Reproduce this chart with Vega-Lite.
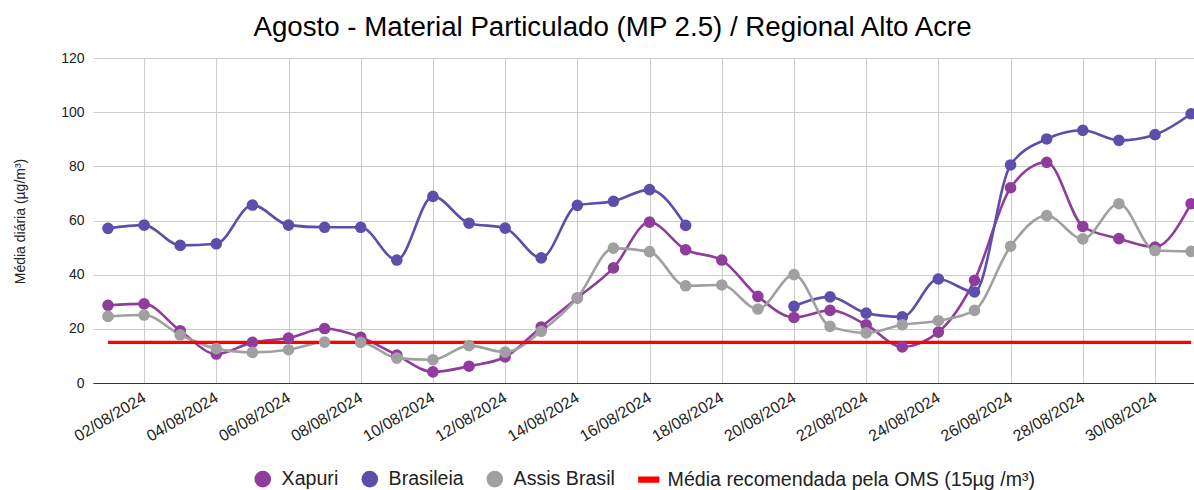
{
  "$schema": "https://vega.github.io/schema/vega-lite/v6.json",
  "width": 1101,
  "height": 325,
  "autosize": {"type": "none"},
  "padding": {"left": 93, "top": 58, "right": 0, "bottom": 107},
  "background": "white",
  "config": {
    "font": "Liberation Sans",
    "view": {"stroke": null}
  },
  "title": {
    "text": "Agosto - Material Particulado (MP 2.5) / Regional Alto Acre",
    "fontSize": 27.7,
    "fontWeight": "normal",
    "color": "#000",
    "dx": -31,
    "offset": 9
  },
  "data": {
    "values": [
      {"dia": 1, "serie": "Xapuri", "valor": 28.7},
      {"dia": 2, "serie": "Xapuri", "valor": 29.2},
      {"dia": 3, "serie": "Xapuri", "valor": 19.3},
      {"dia": 4, "serie": "Xapuri", "valor": 10.7},
      {"dia": 5, "serie": "Xapuri", "valor": 15.0},
      {"dia": 6, "serie": "Xapuri", "valor": 16.6},
      {"dia": 7, "serie": "Xapuri", "valor": 20.1},
      {"dia": 8, "serie": "Xapuri", "valor": 16.9},
      {"dia": 9, "serie": "Xapuri", "valor": 10.3},
      {"dia": 10, "serie": "Xapuri", "valor": 4.1},
      {"dia": 11, "serie": "Xapuri", "valor": 6.2},
      {"dia": 12, "serie": "Xapuri", "valor": 9.6},
      {"dia": 13, "serie": "Xapuri", "valor": 20.7},
      {"dia": 14, "serie": "Xapuri", "valor": 31.4},
      {"dia": 15, "serie": "Xapuri", "valor": 42.5},
      {"dia": 16, "serie": "Xapuri", "valor": 59.4},
      {"dia": 17, "serie": "Xapuri", "valor": 49.2},
      {"dia": 18, "serie": "Xapuri", "valor": 45.4},
      {"dia": 19, "serie": "Xapuri", "valor": 32.0},
      {"dia": 20, "serie": "Xapuri", "valor": 24.2},
      {"dia": 21, "serie": "Xapuri", "valor": 26.8},
      {"dia": 22, "serie": "Xapuri", "valor": 21.5},
      {"dia": 23, "serie": "Xapuri", "valor": 13.3},
      {"dia": 24, "serie": "Xapuri", "valor": 18.8},
      {"dia": 25, "serie": "Xapuri", "valor": 37.9},
      {"dia": 26, "serie": "Xapuri", "valor": 72.1},
      {"dia": 27, "serie": "Xapuri", "valor": 81.5},
      {"dia": 28, "serie": "Xapuri", "valor": 57.8},
      {"dia": 29, "serie": "Xapuri", "valor": 53.3},
      {"dia": 30, "serie": "Xapuri", "valor": 50.2},
      {"dia": 31, "serie": "Xapuri", "valor": 66.2},
      {"dia": 1, "serie": "Brasileia", "valor": 57.1},
      {"dia": 2, "serie": "Brasileia", "valor": 58.3},
      {"dia": 3, "serie": "Brasileia", "valor": 50.8},
      {"dia": 4, "serie": "Brasileia", "valor": 51.4},
      {"dia": 5, "serie": "Brasileia", "valor": 65.7},
      {"dia": 6, "serie": "Brasileia", "valor": 58.3},
      {"dia": 7, "serie": "Brasileia", "valor": 57.5},
      {"dia": 8, "serie": "Brasileia", "valor": 57.5},
      {"dia": 9, "serie": "Brasileia", "valor": 45.4},
      {"dia": 10, "serie": "Brasileia", "valor": 68.9},
      {"dia": 11, "serie": "Brasileia", "valor": 59.0},
      {"dia": 12, "serie": "Brasileia", "valor": 57.2},
      {"dia": 13, "serie": "Brasileia", "valor": 46.2},
      {"dia": 14, "serie": "Brasileia", "valor": 65.6},
      {"dia": 15, "serie": "Brasileia", "valor": 67.1},
      {"dia": 16, "serie": "Brasileia", "valor": 71.4},
      {"dia": 17, "serie": "Brasileia", "valor": 58.2},
      {"dia": 18, "serie": "Brasileia", "valor": null},
      {"dia": 19, "serie": "Brasileia", "valor": null},
      {"dia": 20, "serie": "Brasileia", "valor": 28.3},
      {"dia": 21, "serie": "Brasileia", "valor": 31.8},
      {"dia": 22, "serie": "Brasileia", "valor": 25.8},
      {"dia": 23, "serie": "Brasileia", "valor": 24.4},
      {"dia": 24, "serie": "Brasileia", "valor": 38.4},
      {"dia": 25, "serie": "Brasileia", "valor": 33.6},
      {"dia": 26, "serie": "Brasileia", "valor": 80.5},
      {"dia": 27, "serie": "Brasileia", "valor": 90.1},
      {"dia": 28, "serie": "Brasileia", "valor": 93.3},
      {"dia": 29, "serie": "Brasileia", "valor": 89.6},
      {"dia": 30, "serie": "Brasileia", "valor": 91.7},
      {"dia": 31, "serie": "Brasileia", "valor": 99.4},
      {"dia": 1, "serie": "Assis Brasil", "valor": 24.6},
      {"dia": 2, "serie": "Assis Brasil", "valor": 25.1},
      {"dia": 3, "serie": "Assis Brasil", "valor": 17.8},
      {"dia": 4, "serie": "Assis Brasil", "valor": 12.7},
      {"dia": 5, "serie": "Assis Brasil", "valor": 11.3},
      {"dia": 6, "serie": "Assis Brasil", "valor": 12.3},
      {"dia": 7, "serie": "Assis Brasil", "valor": 15.1},
      {"dia": 8, "serie": "Assis Brasil", "valor": 15.0},
      {"dia": 9, "serie": "Assis Brasil", "valor": 9.2},
      {"dia": 10, "serie": "Assis Brasil", "valor": 8.6},
      {"dia": 11, "serie": "Assis Brasil", "valor": 13.8},
      {"dia": 12, "serie": "Assis Brasil", "valor": 11.4},
      {"dia": 13, "serie": "Assis Brasil", "valor": 19.1},
      {"dia": 14, "serie": "Assis Brasil", "valor": 31.4},
      {"dia": 15, "serie": "Assis Brasil", "valor": 49.8},
      {"dia": 16, "serie": "Assis Brasil", "valor": 48.5},
      {"dia": 17, "serie": "Assis Brasil", "valor": 35.9},
      {"dia": 18, "serie": "Assis Brasil", "valor": 36.2},
      {"dia": 19, "serie": "Assis Brasil", "valor": 27.3},
      {"dia": 20, "serie": "Assis Brasil", "valor": 40.0},
      {"dia": 21, "serie": "Assis Brasil", "valor": 20.9},
      {"dia": 22, "serie": "Assis Brasil", "valor": 18.5},
      {"dia": 23, "serie": "Assis Brasil", "valor": 21.5},
      {"dia": 24, "serie": "Assis Brasil", "valor": 23.0},
      {"dia": 25, "serie": "Assis Brasil", "valor": 26.8},
      {"dia": 26, "serie": "Assis Brasil", "valor": 50.5},
      {"dia": 27, "serie": "Assis Brasil", "valor": 61.8},
      {"dia": 28, "serie": "Assis Brasil", "valor": 53.2},
      {"dia": 29, "serie": "Assis Brasil", "valor": 66.2},
      {"dia": 30, "serie": "Assis Brasil", "valor": 48.9},
      {"dia": 31, "serie": "Assis Brasil", "valor": 48.6},
      {"dia": 1, "serie": "Média recomendada pela OMS (15µg /m³)", "valor": 15},
      {"dia": 31, "serie": "Média recomendada pela OMS (15µg /m³)", "valor": 15}
    ]
  },
  "encoding": {
    "x": {
      "field": "dia",
      "type": "quantitative",
      "scale": {"domain": [0.585, 31.08], "nice": false, "zero": false},
      "axis": {
        "title": null,
        "values": [2, 4, 6, 8, 10, 12, 14, 16, 18, 20, 22, 24, 26, 28, 30],
        "labelExpr": "(datum.value < 10 ? '0' : '') + datum.value + '/08/2024'",
        "labelAngle": -31,
        "labelAlign": "right",
        "labelBaseline": "middle",
        "labelFontSize": 16,
        "labelColor": "#222",
        "labelPadding": 13,
        "labelDx": -8,
        "labelOverlap": false,
        "ticks": false,
        "domain": true,
        "domainColor": "#333",
        "domainWidth": 1.2,
        "grid": true,
        "gridColor": "#cccccc",
        "gridWidth": 1
      }
    },
    "y": {
      "field": "valor",
      "type": "quantitative",
      "scale": {"domain": [0, 120], "nice": false},
      "axis": {
        "title": "Média diária (µg/m³)",
        "titleFontSize": 14,
        "titleFontWeight": "normal",
        "titleColor": "#222",
        "titleX": -73,
        "titleY": 163,
        "titleAngle": -90,
        "titleAlign": "center",
        "titleBaseline": "middle",
        "values": [0, 20, 40, 60, 80, 100, 120],
        "labelFontSize": 14,
        "labelColor": "#222",
        "labelPadding": 9,
        "ticks": false,
        "domain": false,
        "grid": true,
        "gridColor": "#cccccc",
        "gridWidth": 1
      }
    },
    "color": {
      "field": "serie",
      "type": "nominal",
      "scale": {
        "domain": ["Xapuri", "Brasileia", "Assis Brasil", "Média recomendada pela OMS (15µg /m³)"],
        "range": ["#8f3d9b", "#5f4dab", "#a0a0a0", "#ff0000"]
      },
      "legend": {
        "title": null,
        "orient": "none",
        "direction": "horizontal",
        "columns": 4,
        "legendX": 160,
        "legendY": 411,
        "labelFontSize": 19.6,
        "labelColor": "#222",
        "labelLimit": 0,
        "symbolSize": 230,
        "columnPadding": 20,
        "labelOffset": 9,
        "encode": {
          "symbols": {
            "update": {
              "shape": {"signal": "datum.index === 3 ? 'M-1.3,-0.32H1.3V0.32H-1.3Z' : 'circle'"},
              "fill": {"scale": "color", "field": "value"},
              "stroke": {"value": "transparent"},
              "opacity": {"value": 1},
              "fillOpacity": {"value": 1}
            }
          }
        }
      }
    }
  },
  "layer": [
    {
      "mark": {"type": "line", "interpolate": "monotone"},
      "encoding": {
        "strokeWidth": {
          "condition": {"test": "datum.serie == 'Média recomendada pela OMS (15µg /m³)'", "value": 3.4},
          "value": 2.6
        }
      }
    },
    {
      "transform": [
        {"filter": "datum.valor != null && datum.serie != 'Média recomendada pela OMS (15µg /m³)'"}
      ],
      "mark": {"type": "point", "filled": true, "opacity": 1},
      "encoding": {
        "size": {
          "field": "serie",
          "type": "nominal",
          "scale": {"domain": ["Xapuri", "Brasileia", "Assis Brasil"], "range": [135, 135, 280]},
          "legend": null
        }
      }
    }
  ]
}
